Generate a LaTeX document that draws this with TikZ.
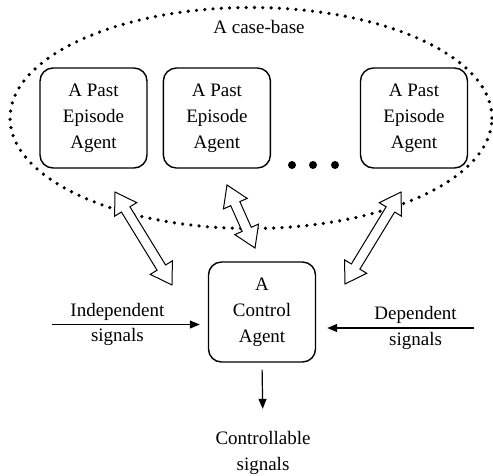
\documentclass[tikz,border=0pt]{standalone}
\usepackage{fontspec}
\setmainfont{Liberation Serif}
\usetikzlibrary{arrows.meta,positioning,shapes.geometric,shapes.arrows,calc}

\begin{document}
\begin{tikzpicture}[x=1pt,y=-1pt,>={Triangle[length=10pt,width=8pt]},
  font=\fontsize{19}{26}\selectfont,
  agent node/.style={draw,line width=1.4pt,rounded corners=13pt,minimum width=107pt,
    minimum height=100pt,align=center,inner sep=2pt},
  link arrow/.style={draw,line width=1pt,fill=white,double arrow,double arrow tip angle=65,
    double arrow head extend=8pt,inner xsep=0pt,inner ysep=4.5pt},
  signal/.style={->,line width=1.2pt}]

  \useasboundingbox (0,0) rectangle (493,475);

  % case-base with the stored agents
  \node[draw,ellipse,line width=3.6pt,line cap=round,dash pattern=on 0pt off 8.3pt,
    minimum width=482pt,minimum height=221pt] (base) at (251,118) {};
  \node (basename) at (259,27) {A case-base};
  \node[agent node] (past1) at (93.5,118) {A Past\\Episode\\Agent};
  \node[agent node] (past2) [right=15pt of past1] {A Past\\Episode\\Agent};
  \node[agent node] (past3) at (414,118) {A Past\\Episode\\Agent};
  \foreach \x in {292,313,335}
    \fill (\x,165) circle (4pt);

  % control agent
  \node[agent node] (ctrl) at (262,312) {A\\Control\\Agent};
  \node[align=center] (out) at (263,453) {Controllable\\signals};
  \coordinate (indep) at (52,324.5);
  \coordinate (dep) at (474,328);

  \draw[signal,shorten >=8pt] (indep) -- (indep -| ctrl.west)
    node[pos=0.42,above,inner sep=3.5pt] {Independent}
    node[pos=0.42,below,inner sep=3.5pt] {signals};
  \draw[signal,shorten >=11pt] (dep) -- (dep -| ctrl.east)
    node[pos=0.37,above,inner sep=3.5pt] {Dependent}
    node[pos=0.37,below,inner sep=3.5pt] {signals};
  \draw[signal,shorten <=7pt,shorten >=19pt] (ctrl.south) -- (out.north);

  % exchange between the case-base and the control agent
  \coordinate (l1a) at (115,192); \coordinate (l1b) at (172,285);
  \coordinate (l2a) at (227,185); \coordinate (l2b) at (255,248);
  \coordinate (l3a) at (401,192); \coordinate (l3b) at (345,284);
  \foreach \a/\b in {l1a/l1b,l2a/l2b,l3a/l3b}
    \path let \p1=($(\b)-(\a)$), \n1={veclen(\x1,\y1)} in
      (\a) -- (\b) node[link arrow,midway,sloped,minimum height=\n1] {};
\end{tikzpicture}
\end{document}
